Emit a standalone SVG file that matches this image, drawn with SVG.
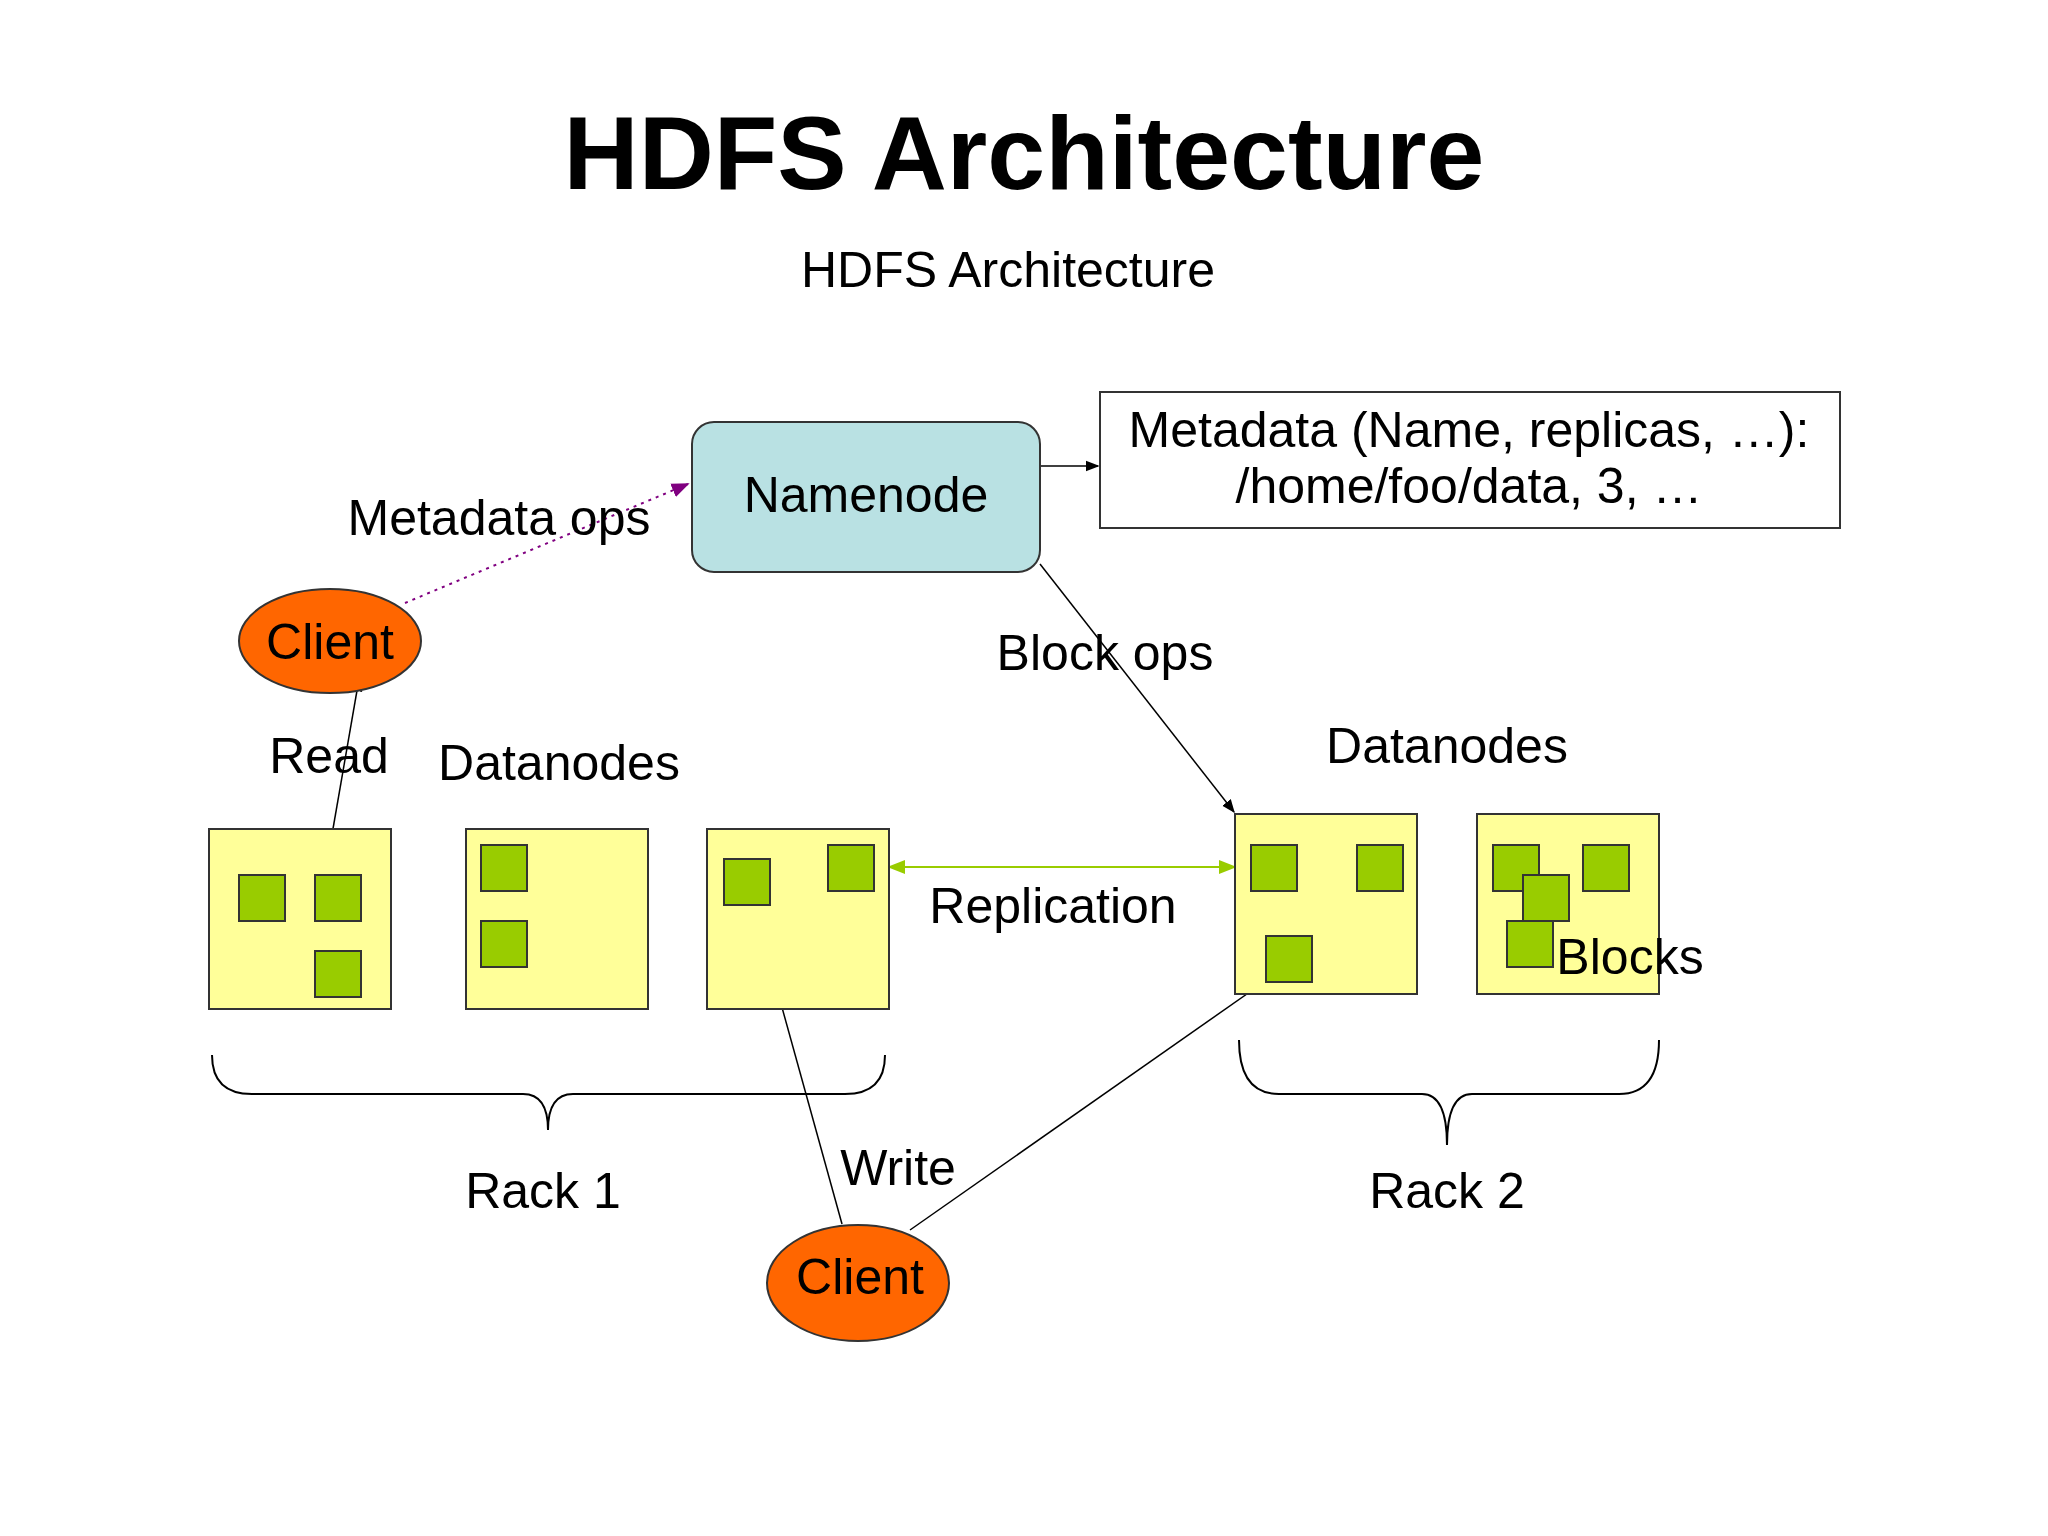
<svg xmlns="http://www.w3.org/2000/svg" width="2048" height="1536" viewBox="0 0 2048 1536">
<style>
text{font-family:"Liberation Sans",Arial,sans-serif;fill:#000;text-anchor:middle}
.lbl{font-size:50px}
.dn{fill:#ffff99;stroke:#333;stroke-width:2}
.blk{fill:#99cc00;stroke:#333;stroke-width:2}
.cl{fill:#ff6600;stroke:#333;stroke-width:2}
.ln{stroke:#000;stroke-width:1.5;fill:none}
.br{stroke:#000;stroke-width:2;fill:none}
</style>
<defs>
<marker id="ah" viewBox="0 0 10 10" refX="9" refY="5" markerWidth="9" markerHeight="9" orient="auto-start-reverse"><path d="M0,1 L10,5 L0,9 z" fill="#000"/></marker>
<marker id="ap" viewBox="0 0 10 10" refX="9" refY="5" markerWidth="9" markerHeight="9" orient="auto"><path d="M0,1 L10,5 L0,9 z" fill="#800080"/></marker>
<marker id="ag" viewBox="0 0 10 10" refX="9" refY="5" markerWidth="9" markerHeight="9" orient="auto-start-reverse"><path d="M0,1 L10,5 L0,9 z" fill="#99cc00"/></marker>
</defs>
<rect width="2048" height="1536" fill="#fff"/>
<text x="1024" y="189" style="font-size:104px;font-weight:bold">HDFS Architecture</text>
<text x="1008" y="287" style="font-size:50px">HDFS Architecture</text>

<g id="connectors">
<line class="ln" x1="1040" y1="466" x2="1098" y2="466" marker-end="url(#ah)"/>
<line x1="405" y1="603" x2="688" y2="484" stroke="#800080" stroke-width="2" stroke-dasharray="3,5" marker-end="url(#ap)"/>
<line class="ln" x1="1040" y1="564" x2="1234" y2="812" marker-end="url(#ah)"/>
<line class="ln" x1="330" y1="846" x2="359" y2="679" marker-end="url(#ah)"/>
<line x1="889" y1="867" x2="1235" y2="867" stroke="#99cc00" stroke-width="2" marker-start="url(#ag)" marker-end="url(#ag)"/>
<line class="ln" x1="842" y1="1224" x2="755" y2="910" marker-end="url(#ah)"/>
<line class="ln" x1="910" y1="1230" x2="1264" y2="982" marker-end="url(#ah)"/>
</g>

<g id="namenode"><rect x="692" y="422" width="348" height="150" rx="22" fill="#b9e1e3" stroke="#333" stroke-width="2"/><text class="lbl" x="866" y="512">Namenode</text></g>
<g id="metadata"><rect x="1100" y="392" width="740" height="136" fill="#fff" stroke="#333" stroke-width="2"/><text class="lbl" x="1469" y="447">Metadata (Name, replicas, …):</text><text class="lbl" x="1469" y="503">/home/foo/data, 3, …</text></g>
<g id="client1"><ellipse class="cl" cx="330" cy="641" rx="91" ry="52"/><text class="lbl" x="330" y="659">Client</text></g>
<g id="client2"><ellipse class="cl" cx="858" cy="1283" rx="91" ry="58"/><text class="lbl" x="860" y="1294">Client</text></g>

<g id="dn1"><rect class="dn" x="209" y="829" width="182" height="180"/><rect class="blk" x="239" y="875" width="46" height="46"/><rect class="blk" x="315" y="875" width="46" height="46"/><rect class="blk" x="315" y="951" width="46" height="46"/></g>
<g id="dn2"><rect class="dn" x="466" y="829" width="182" height="180"/><rect class="blk" x="481" y="845" width="46" height="46"/><rect class="blk" x="481" y="921" width="46" height="46"/></g>
<g id="dn3"><rect class="dn" x="707" y="829" width="182" height="180"/><rect class="blk" x="724" y="859" width="46" height="46"/><rect class="blk" x="828" y="845" width="46" height="46"/></g>
<g id="dn4"><rect class="dn" x="1235" y="814" width="182" height="180"/><rect class="blk" x="1251" y="845" width="46" height="46"/><rect class="blk" x="1357" y="845" width="46" height="46"/><rect class="blk" x="1266" y="936" width="46" height="46"/></g>
<g id="dn5"><rect class="dn" x="1477" y="814" width="182" height="180"/><rect class="blk" x="1493" y="845" width="46" height="46"/><rect class="blk" x="1583" y="845" width="46" height="46"/><rect class="blk" x="1523" y="875" width="46" height="46"/><rect class="blk" x="1507" y="921" width="46" height="46"/></g>

<g id="braces">
<path class="br" d="M212,1055 Q212,1094 252,1094 L523,1094 Q548,1094 548,1130 Q548,1094 573,1094 L845,1094 Q885,1094 885,1055"/>
<path class="br" d="M1239,1040 Q1239,1094 1279,1094 L1422,1094 Q1447,1094 1447,1145 Q1447,1094 1472,1094 L1619,1094 Q1659,1094 1659,1040"/>
</g>

<g id="labels">
<text class="lbl" x="499" y="535">Metadata ops</text>
<text class="lbl" x="1105" y="670">Block ops</text>
<text class="lbl" x="329" y="773">Read</text>
<text class="lbl" x="559" y="780">Datanodes</text>
<text class="lbl" x="1447" y="763">Datanodes</text>
<text class="lbl" x="1053" y="923">Replication</text>
<text class="lbl" x="1630" y="974">Blocks</text>
<text class="lbl" x="898" y="1185">Write</text>
<text class="lbl" x="543" y="1208">Rack 1</text>
<text class="lbl" x="1447" y="1208">Rack 2</text>
</g>
</svg>
